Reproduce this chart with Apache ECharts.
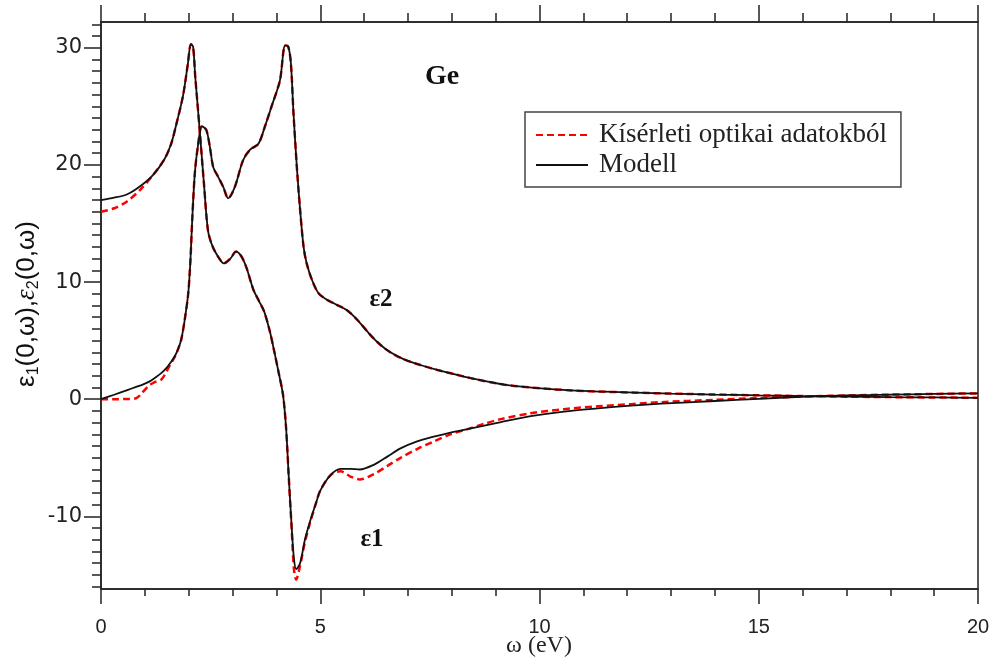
<!DOCTYPE html>
<html>
<head>
<meta charset="utf-8">
<title>Ge</title>
<script src="https://cdn.jsdelivr.net/npm/echarts@6/dist/echarts.min.js"></script>
<style>
  html, body { margin: 0; padding: 0; background: #fff; }
  #chart { width: 990px; height: 661px; }
</style>
</head>
<body>
<div id="chart"></div>
<script>
// eps2 görbe (0-ból indul) - x értékek eV-ben
const e2X = [0, 0.3, 0.6, 0.8, 0.95, 1.1, 1.22, 1.38, 1.5, 1.6, 1.68, 1.76, 1.83, 1.91, 1.99, 2.04, 2.08, 2.14, 2.21, 2.3,
  2.4, 2.48, 2.56, 2.67, 2.79, 2.9, 3.05, 3.24, 3.4, 3.59, 3.74, 3.89, 4.08, 4.2, 4.27, 4.33, 4.39, 4.47, 4.54, 4.62,
  4.69, 4.81, 4.96, 5.15, 5.38, 5.61, 5.84, 6.14, 6.37, 6.6, 6.91, 7.3, 7.67, 8.05, 8.43, 9.2, 9.96, 10.72, 11.48, 12.2,
  13, 14, 15, 16, 17, 18, 19, 20]
const e2Model = [0, 0.38, 0.78, 1.05, 1.25, 1.5, 1.8, 2.25, 2.7, 3.2, 3.65, 4.3, 5.1, 6.8, 9.05, 11.9, 15.3, 19.3, 21.6, 23.3,
  23.0, 21.6, 19.8, 19.0, 18.1, 17.15, 18.1, 20.4, 21.3, 21.8, 23.3, 25.0, 27.2, 30.2, 30.1, 28.7, 24.4, 19.6, 16.2, 13.0,
  11.6, 10.2, 9.05, 8.5, 8.05, 7.6, 6.8, 5.5, 4.65, 4.0, 3.4, 2.9, 2.5, 2.15, 1.8, 1.24, 0.95, 0.75, 0.64, 0.56,
  0.48, 0.4, 0.33, 0.27, 0.22, 0.18, 0.15, 0.12]
const e2Exp = [0, 0, 0.02, 0.08, 0.6, 1.2, 1.45, 1.7, 2.4, 3.1, 3.6, 4.3, 5.1, 6.8, 9.05, 11.9, 15.3, 19.3, 21.6, 23.3,
  23.0, 21.6, 19.8, 19.0, 18.1, 17.15, 18.1, 20.4, 21.3, 21.8, 23.3, 25.0, 27.2, 30.2, 30.1, 28.7, 24.4, 19.6, 16.2, 13.0,
  11.6, 10.2, 9.05, 8.5, 8.05, 7.6, 6.8, 5.5, 4.65, 4.0, 3.4, 2.9, 2.5, 2.15, 1.8, 1.24, 0.95, 0.75, 0.64, 0.56,
  0.48, 0.4, 0.33, 0.27, 0.22, 0.18, 0.15, 0.12]

// eps1 görbe (17-ről indul)
const e1X = [0, 0.3, 0.6, 0.9, 1.2, 1.45, 1.6, 1.72, 1.87, 1.98, 2.05, 2.1, 2.15, 2.25, 2.35, 2.44, 2.55, 2.7, 2.8, 2.95,
  3.08, 3.2, 3.32, 3.47, 3.6, 3.72, 3.85, 3.95, 4.05, 4.15, 4.22, 4.28, 4.35, 4.4, 4.45, 4.54, 4.65, 4.77, 4.9, 5.0,
  5.23, 5.46, 5.69, 5.9, 6.22, 6.53, 6.83, 7.21, 7.59, 7.97, 8.36, 8.74, 9.12, 9.8, 10.56, 11.33, 12.09, 12.78, 14, 15,
  16.2, 17, 18, 19, 20]
const e1Model = [17.0, 17.2, 17.5, 18.2, 19.2, 20.5, 21.8, 23.5, 25.9, 28.6, 30.3, 30.1, 27.5, 23.0, 18.3, 14.4, 13.0, 12.0, 11.6, 12.0,
  12.6, 12.2, 11.2, 9.4, 8.4, 7.5, 5.8, 4.1, 2.3, 0.4, -2.4, -6.5, -11.0, -13.6, -14.5, -14.0, -12.0, -10.4, -8.9, -7.8,
  -6.5, -5.95, -5.95, -6.0, -5.6, -4.9, -4.2, -3.6, -3.2, -2.85, -2.55, -2.25, -1.95, -1.45, -1.05, -0.78, -0.55, -0.38, -0.15, 0.03,
  0.25, 0.32, 0.39, 0.45, 0.5]
const e1Exp = [16.0, 16.3, 16.9, 17.9, 19.2, 20.5, 21.8, 23.5, 25.9, 28.6, 30.3, 30.1, 27.5, 23.0, 18.3, 14.4, 13.0, 12.0, 11.6, 12.0,
  12.6, 12.2, 11.2, 9.4, 8.4, 7.5, 5.8, 4.1, 2.3, 0.4, -2.4, -6.5, -11.2, -14.5, -15.4, -14.2, -12.2, -10.5, -8.9, -7.8,
  -6.5, -6.15, -6.6, -6.85, -6.4, -5.7, -5.0, -4.25, -3.6, -3.0, -2.55, -2.1, -1.7, -1.2, -0.85, -0.6, -0.42, -0.25, -0.05, 0.1,
  0.25, 0.32, 0.39, 0.45, 0.5]

// tengely feliratok
const yMajor = [-10, 0, 10, 20, 30]
const yMinor = []
for (let v = -16; v <= 32; v++) yMinor.push(v)

const expName = 'Kísérleti optikai adatokból'
const modelName = 'Modell'

const axisColor = '#222'
const sansFont = 'Liberation Sans'
const wideSans = 'DejaVu Sans'
const serifFont = 'Liberation Serif'

const pairs = (xs, ys) => xs.map((x, i) => [x, ys[i]])

const chart = echarts.init(document.getElementById('chart'), null, { renderer: 'canvas' })

const expLine = { color: '#ff0000', width: 2.5, type: [7, 4] }
const modelLine = { color: '#111', width: 1.8 }

const xAxisBase = {
  type: 'value',
  min: 0,
  max: 20,
  interval: 5,
  splitLine: { show: false },
  axisLine: { onZero: false, lineStyle: { color: axisColor, width: 1.5 } }
}

const option = {
  animation: false,
  backgroundColor: '#fff',
  grid: {
    left: 101,
    right: 12,
    top: 22,
    bottom: 72,
    outerBoundsMode: 'none',
    show: true,
    borderColor: axisColor,
    borderWidth: 1.5
  },
  legend: {
    data: [expName, modelName],
    orient: 'vertical',
    left: 525,
    top: 112,
    padding: [9, 14, 8, 10],
    itemGap: 2,
    itemWidth: 52,
    itemHeight: 14,
    itemStyle: { opacity: 0 },
    borderColor: '#444',
    borderWidth: 1.5,
    borderRadius: 0,
    textStyle: {
      fontFamily: serifFont,
      fontSize: 27,
      color: '#222',
      lineHeight: 28,
      padding: [0, 0, 0, 6]
    }
  },
  xAxis: [
    Object.assign({}, xAxisBase, {
      position: 'bottom',
      axisTick: { length: 15, lineStyle: { color: axisColor, width: 1.5 } },
      minorTick: { show: true, splitNumber: 5, length: 7, lineStyle: { color: axisColor, width: 1.5 } },
      axisLabel: { margin: 28, fontSize: 20, fontFamily: sansFont, color: '#222' }
    }),
    Object.assign({}, xAxisBase, {
      position: 'top',
      axisTick: { length: 17, lineStyle: { color: axisColor, width: 1.5 } },
      minorTick: { show: true, splitNumber: 5, length: 9, lineStyle: { color: axisColor, width: 1.5 } },
      axisLabel: { show: false }
    })
  ],
  yAxis: [
    {
      type: 'value',
      min: -16.2,
      max: 32.2,
      position: 'left',
      splitLine: { show: false },
      axisLine: { show: true, onZero: false, lineStyle: { color: axisColor, width: 1.5 } },
      axisTick: { show: true, customValues: yMajor, length: 17, lineStyle: { color: axisColor, width: 1.5 } },
      axisLabel: { customValues: yMajor, margin: 19, fontSize: 21, fontFamily: wideSans, color: '#222' }
    },
    {
      type: 'value',
      min: -16.2,
      max: 32.2,
      position: 'left',
      splitLine: { show: false },
      axisLine: { show: false, onZero: false },
      axisTick: { show: true, customValues: yMinor, length: 9, lineStyle: { color: axisColor, width: 1.5 } },
      axisLabel: { show: false }
    }
  ],
  series: [
    { name: expName, type: 'line', data: pairs(e2X, e2Exp), symbol: 'none', smooth: 0.3, lineStyle: expLine, itemStyle: { color: '#ff0000' } },
    { name: expName, type: 'line', data: pairs(e1X, e1Exp), symbol: 'none', smooth: 0.3, lineStyle: expLine, itemStyle: { color: '#ff0000' } },
    { name: modelName, type: 'line', data: pairs(e2X, e2Model), symbol: 'none', smooth: 0.3, lineStyle: modelLine, itemStyle: { color: '#111' } },
    { name: modelName, type: 'line', data: pairs(e1X, e1Model), symbol: 'none', smooth: 0.3, lineStyle: modelLine, itemStyle: { color: '#111' } }
  ],
  graphic: [
    {
      type: 'text', x: 442, y: 77,
      style: { text: 'Ge', fontFamily: serifFont, fontSize: 28, fontWeight: 'bold', fill: '#111', align: 'center', verticalAlign: 'middle' }
    },
    {
      type: 'text', x: 381, y: 300,
      style: { text: 'ε2', fontFamily: serifFont, fontSize: 25, fontWeight: 'bold', fill: '#111', align: 'center', verticalAlign: 'middle' }
    },
    {
      type: 'text', x: 372, y: 540,
      style: { text: 'ε1', fontFamily: serifFont, fontSize: 25, fontWeight: 'bold', fill: '#111', align: 'center', verticalAlign: 'middle' }
    },
    {
      // x tengely neve
      type: 'text', x: 539, y: 646,
      style: { text: 'ω (eV)', fontFamily: serifFont, fontSize: 24, fill: '#222', align: 'center', verticalAlign: 'middle' }
    },
    {
      // y tengely neve, elforgatva
      type: 'text', x: 27, y: 304, rotation: Math.PI / 2,
      style: {
        text: '{e|ε}{s|1}{e|(0,ω),}{i|ε}{s|2}{e|(0,ω)}',
        align: 'center',
        verticalAlign: 'middle',
        fill: '#111',
        rich: {
          e: { fontFamily: sansFont, fontSize: 26, lineHeight: 30, fill: '#111' },
          i: { fontFamily: serifFont, fontSize: 27, fontStyle: 'italic', lineHeight: 30, fill: '#111' },
          s: { fontFamily: sansFont, fontSize: 16, lineHeight: 14, verticalAlign: 'bottom', fill: '#111' }
        }
      }
    }
  ]
}

chart.setOption(option)
</script>
</body>
</html>
